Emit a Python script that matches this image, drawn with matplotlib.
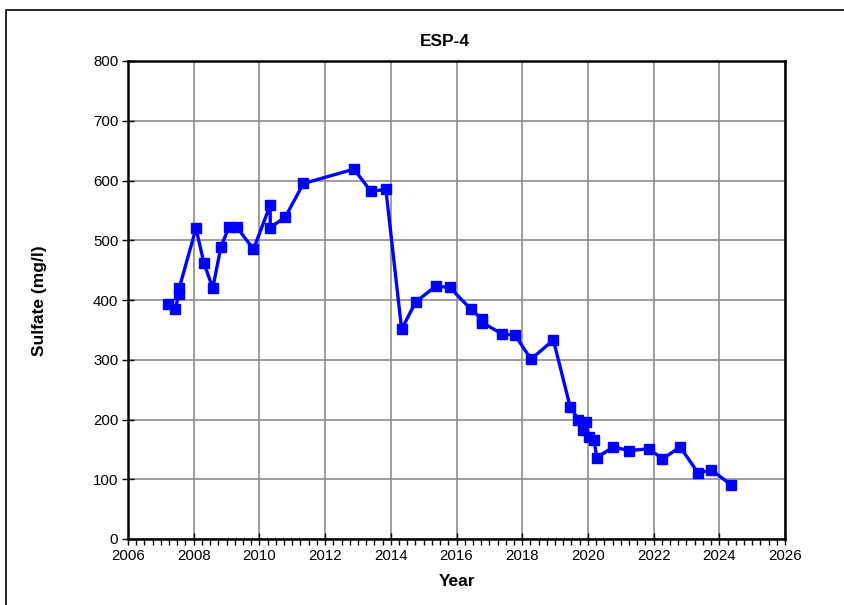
import matplotlib
matplotlib.use("Agg")
import matplotlib.pyplot as plt
from matplotlib.ticker import MultipleLocator
from matplotlib.patches import Rectangle

plt.rcParams['font.family'] = ['Liberation Sans', 'DejaVu Sans']

years = [2007.23, 2007.43, 2007.56, 2007.56, 2008.07, 2008.31, 2008.58, 2008.83,
         2009.08, 2009.31, 2009.82, 2010.33, 2010.33, 2010.79, 2011.34, 2012.88,
         2013.39, 2013.85, 2014.33, 2014.76, 2015.37, 2015.80, 2016.43, 2016.77,
         2016.79, 2017.39, 2017.78, 2018.27, 2018.95, 2019.46, 2019.71, 2019.86,
         2019.94, 2020.03, 2020.19, 2020.27, 2020.77, 2021.26, 2021.86, 2022.27,
         2022.81, 2023.36, 2023.75, 2024.35]
sulfate = [393, 385, 410, 420, 520, 462, 420, 489,
           523, 522, 485, 559, 521, 539, 595, 619,
           582, 585, 351, 397, 423, 421, 385, 368,
           362, 343, 341, 301, 333, 221, 200, 182,
           195, 171, 165, 136, 154, 148, 151, 134,
           154, 110, 116, 91]

W, H = 845, 605
fig = plt.figure(figsize=(W / 100, H / 100), dpi=100)
left, right, top, bottom = 128, 785, 61, 539
ax = fig.add_axes([left / W, 1 - bottom / H, (right - left) / W, (bottom - top) / H])

ax.plot(years, sulfate, color='#0000FF', lw=2.4, marker='s', ms=6.5,
        markerfacecolor='#0000FF', markeredgecolor='#0000FF', zorder=3)

ax.set_xlim(2006, 2026)
ax.set_ylim(0, 800)
ax.xaxis.set_major_locator(MultipleLocator(2))
ax.xaxis.set_minor_locator(MultipleLocator(0.25))
ax.yaxis.set_major_locator(MultipleLocator(100))
ax.grid(True, which='major', color='#8c8c8c', lw=1.2)
ax.set_axisbelow(True)
for s in ax.spines.values():
    s.set_linewidth(1.8)
    s.set_color('black')
ax.tick_params(axis='both', which='major', direction='inout', length=8, width=1,
               labelsize=10.8, pad=3)
ax.tick_params(axis='x', which='minor', direction='out', length=4, width=1)
ax.tick_params(axis='y', which='minor', left=False)

fig.text(445 / W, 1 - 41 / H, 'ESP-4', ha='center', va='center', fontsize=12.5, fontweight='bold')
fig.text(457 / W, 1 - 581 / H, 'Year', ha='center', va='center', fontsize=12.5, fontweight='bold')
fig.text(40 / W, 1 - 301 / H, 'Sulfate (mg/l)', ha='center', va='center', rotation=90,
         fontsize=12.5, fontweight='bold')

fig.patches.append(Rectangle((6 / W, -0.1), 1.2, 1 - 10 / H + 0.1, transform=fig.transFigure,
                             fill=False, edgecolor='black', lw=1.2))

fig.savefig('out.png', dpi=100)
